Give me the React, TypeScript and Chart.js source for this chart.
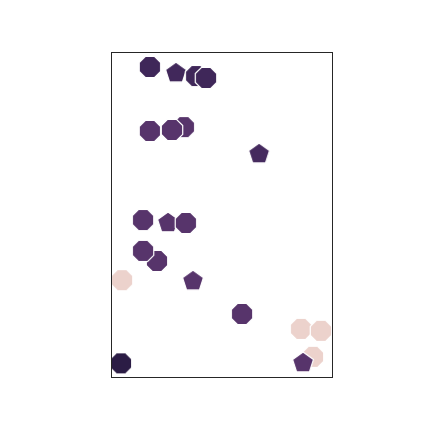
import { useEffect, useRef } from "react"
import { Chart, registerables, type ChartConfiguration, type Plugin } from "chart.js"

Chart.register(...registerables)

// point positions (arbitrary units, no ticks shown in the reference)
const xValues = [1.76, 2.94, 3.85, 4.3, 1.76, 3.3, 2.76, 6.7, 1.45, 2.58, 3.39, 2.08, 1.45, 0.5, 3.71, 5.93, 8.6, 9.5, 9.14, 8.69, 0.45]
const yValues = [9.54, 9.38, 9.26, 9.2, 7.57, 7.69, 7.6, 6.89, 4.83, 4.77, 4.74, 3.57, 3.88, 2.98, 2.98, 1.94, 1.48, 1.42, 0.62, 0.46, 0.42]
// colour variable, 0 = pale, 1 = darkest
const hueValues = [0.8, 0.78, 0.8, 0.8, 0.6, 0.6, 0.6, 0.75, 0.6, 0.6, 0.6, 0.6, 0.6, 0, 0.6, 0.6, 0, 0, 0, 0.6, 1]
// marker group: "a" = octagon, "b" = pentagon
const groups = ["a", "b", "a", "a", "a", "a", "a", "b", "a", "b", "a", "a", "a", "a", "b", "a", "a", "a", "a", "b", "a"]

const paletteStops: [number, string][] = [
  [0, "#ecd2cc"],
  [0.6, "#57346b"],
  [0.8, "#3f2759"],
  [1, "#2b1c45"],
]

function hexToRgb(hex: string) {
  const n = parseInt(hex.slice(1), 16)
  return [(n >> 16) & 255, (n >> 8) & 255, n & 255]
}

function hueColor(t: number) {
  for (let i = 1; i < paletteStops.length; i++) {
    const [t1, c1] = paletteStops[i]
    const [t0, c0] = paletteStops[i - 1]
    if (t <= t1) {
      const f = (t - t0) / (t1 - t0)
      const a = hexToRgb(c0)
      const b = hexToRgb(c1)
      const rgb = a.map((v, k) => Math.round(v + (b[k] - v) * f))
      return `rgb(${rgb[0]}, ${rgb[1]}, ${rgb[2]})`
    }
  }
  return paletteStops[paletteStops.length - 1][1]
}

const markerCache = new Map<string, HTMLCanvasElement>()

function makeMarker(kind: string, color: string) {
  const key = kind + color
  const cached = markerCache.get(key)
  if (cached) return cached
  const size = 28
  const c = document.createElement("canvas")
  c.width = size
  c.height = size
  const ctx = c.getContext("2d")!
  const sides = kind === "a" ? 8 : 5
  const r = kind === "a" ? 11.6 : 11
  const start = kind === "a" ? Math.PI / 8 : -Math.PI / 2
  const cy = kind === "a" ? size / 2 : size / 2 + 0.9
  ctx.beginPath()
  for (let i = 0; i < sides; i++) {
    const ang = start + (i * 2 * Math.PI) / sides
    const px = size / 2 + r * Math.cos(ang)
    const py = cy + r * Math.sin(ang)
    if (i === 0) ctx.moveTo(px, py)
    else ctx.lineTo(px, py)
  }
  ctx.closePath()
  ctx.fillStyle = color
  ctx.fill()
  ctx.strokeStyle = "#ffffff"
  ctx.lineWidth = 1.2
  ctx.stroke()
  markerCache.set(key, c)
  return c
}

const framePlugin: Plugin = {
  id: "frame",
  afterDraw(chart) {
    const { ctx, chartArea } = chart
    ctx.save()
    ctx.strokeStyle = "#262626"
    ctx.lineWidth = 1
    ctx.strokeRect(chartArea.left + 0.5, chartArea.top + 0.5, chartArea.right - chartArea.left, chartArea.bottom - chartArea.top)
    ctx.restore()
  },
}

export default function App() {
  const canvasRef = useRef<HTMLCanvasElement>(null)

  useEffect(() => {
    if (!canvasRef.current) return

    const points = xValues.map((x, i) => ({ x, y: yValues[i] }))
    const markers = groups.map((g, i) => makeMarker(g, hueColor(hueValues[i])))

    const config: ChartConfiguration<"scatter"> = {
      type: "scatter",
      data: {
        datasets: [
          {
            data: points,
            pointStyle: markers,
            pointRadius: 10,
            pointBorderWidth: 0,
          },
        ],
      },
      options: {
        animation: false,
        responsive: true,
        maintainAspectRatio: false,
        events: [],
        layout: { padding: { left: 103, right: 92, top: 44, bottom: 47 } },
        scales: {
          x: { type: "linear", min: 0, max: 10, display: false },
          y: { type: "linear", min: 0, max: 10, display: false },
        },
        plugins: {
          legend: { display: false },
          tooltip: { enabled: false },
        },
      },
      plugins: [framePlugin],
    }

    const chart = new Chart(canvasRef.current, config)
    return () => chart.destroy()
  }, [])

  return (
    <div style={{ width: 416, height: 416 }}>
      <canvas ref={canvasRef} />
    </div>
  )
}
